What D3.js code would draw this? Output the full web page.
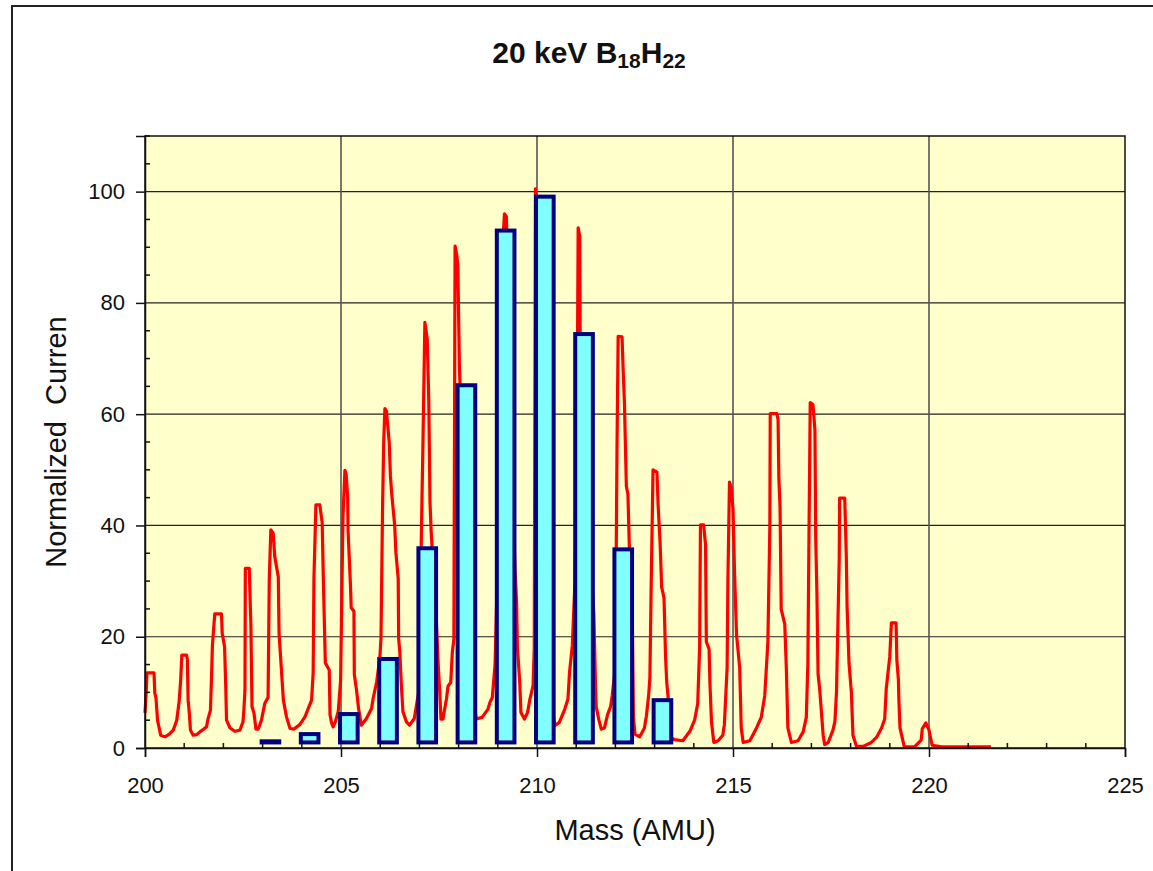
<!DOCTYPE html>
<html>
<head>
  <meta charset="UTF-8">
  <title>20 keV B18H22</title>
  <style>
    body { margin: 0; background: #fff; }
    svg { display: block; font-family: "Liberation Sans", Arial, sans-serif; }
  </style>
</head>
<body>
<svg id="chart"></svg>

<script src="https://d3js.org/d3.v7.min.js"></script>
<script>

const traceMass = [
  200.00, 200.03, 200.05, 200.23, 200.25, 200.28, 200.32, 200.40, 200.51, 200.62,
  200.72, 200.81, 200.87, 200.91, 200.94, 201.06, 201.08, 201.10, 201.13, 201.16,
  201.23, 201.32, 201.40, 201.50, 201.57, 201.60, 201.67, 201.70, 201.72, 201.78,
  201.95, 201.97, 202.03, 202.06, 202.08, 202.17, 202.29, 202.42, 202.50, 202.52,
  202.55, 202.56, 202.66, 202.68, 202.70, 202.73, 202.78, 202.83, 202.89, 202.97,
  203.06, 203.14, 203.17, 203.21, 203.27, 203.31, 203.40, 203.42, 203.53, 203.61,
  203.70, 203.80, 203.95, 204.08, 204.25, 204.29, 204.31, 204.36, 204.46, 204.52,
  204.55, 204.60, 204.70, 204.72, 204.76, 204.80, 204.86, 204.93, 204.99, 205.02,
  205.05, 205.10, 205.13, 205.17, 205.18, 205.24, 205.26, 205.33, 205.34, 205.40,
  205.45, 205.52, 205.65, 205.78, 205.82, 205.91, 205.99, 206.02, 206.06, 206.09,
  206.12, 206.16, 206.23, 206.26, 206.29, 206.37, 206.40, 206.46, 206.47, 206.50,
  206.54, 206.58, 206.67, 206.75, 206.87, 206.94, 207.00, 207.05, 207.09, 207.14,
  207.20, 207.24, 207.27, 207.30, 207.35, 207.42, 207.48, 207.52, 207.55, 207.60,
  207.69, 207.73, 207.80, 207.84, 207.88, 207.91, 207.95, 207.98, 208.02, 208.06,
  208.12, 208.20, 208.28, 208.36, 208.45, 208.60, 208.75, 208.80, 208.86, 208.93,
  209.02, 209.12, 209.17, 209.22, 209.28, 209.36, 209.44, 209.48, 209.50, 209.56,
  209.59, 209.68, 209.76, 209.82, 209.90, 209.93, 209.96, 209.99, 210.06, 210.15,
  210.25, 210.35, 210.45, 210.57, 210.71, 210.79, 210.83, 210.90, 210.97, 211.02,
  211.05, 211.09, 211.10, 211.20, 211.30, 211.40, 211.45, 211.49, 211.51, 211.58,
  211.64, 211.72, 211.80, 211.88, 211.92, 212.00, 212.04, 212.07, 212.17, 212.20,
  212.23, 212.28, 212.32, 212.36, 212.41, 212.43, 212.46, 212.50, 212.62, 212.74,
  212.79, 212.85, 212.88, 212.91, 212.96, 213.06, 213.09, 213.14, 213.18, 213.24,
  213.28, 213.31, 213.36, 213.40, 213.50, 213.72, 213.90, 214.02, 214.10, 214.15,
  214.17, 214.25, 214.30, 214.32, 214.39, 214.41, 214.45, 214.51, 214.62, 214.74,
  214.78, 214.85, 214.87, 214.91, 214.95, 215.00, 215.04, 215.09, 215.17, 215.21,
  215.26, 215.43, 215.60, 215.72, 215.81, 215.89, 215.94, 215.95, 216.12, 216.15,
  216.17, 216.20, 216.23, 216.32, 216.36, 216.40, 216.49, 216.66, 216.79, 216.87,
  216.91, 216.94, 216.97, 217.04, 217.09, 217.11, 217.14, 217.17, 217.21, 217.30,
  217.34, 217.43, 217.55, 217.60, 217.64, 217.71, 217.72, 217.85, 217.89, 217.91,
  217.96, 218.02, 218.06, 218.15, 218.32, 218.53, 218.66, 218.79, 218.87, 218.91,
  219.00, 219.04, 219.16, 219.18, 219.22, 219.23, 219.26, 219.37, 219.63, 219.80,
  219.83, 219.92, 220.00, 220.08, 220.33, 221.58
];
const traceCurrent = [
  6.3, 9.9, 13.5, 13.5, 9.9, 9.0, 5.0, 2.3, 2.0, 2.5,
  3.2, 5.0, 8.3, 12.2, 16.7, 16.7, 16.0, 8.6, 6.3, 3.2,
  2.3, 2.4, 2.9, 3.4, 3.8, 5.0, 6.8, 13.5, 18.5, 24.1,
  24.1, 20.6, 18.2, 11.0, 5.0, 3.6, 3.0, 3.2, 4.7, 6.5,
  10.4, 32.3, 32.3, 27.0, 22.5, 7.4, 6.3, 3.4, 3.4, 5.0,
  8.1, 9.1, 30.2, 39.2, 38.6, 34.4, 30.8, 20.6, 8.6, 5.6,
  3.5, 3.4, 4.2, 5.6, 8.6, 13.5, 30.6, 43.7, 43.7, 40.5,
  30.2, 15.3, 14.0, 6.0, 4.5, 3.8, 4.8, 6.6, 12.1, 27.0,
  41.5, 49.9, 49.3, 45.0, 39.0, 29.5, 25.2, 24.6, 13.2, 10.2,
  7.0, 4.1, 5.3, 7.1, 8.9, 11.9, 16.1, 19.7, 43.1, 55.1,
  61.0, 60.5, 55.0, 49.0, 46.0, 40.0, 35.2, 30.4, 19.7, 17.3,
  11.3, 6.5, 4.7, 4.1, 5.3, 8.3, 10.7, 38.3, 54.5, 76.5,
  73.5, 62.2, 44.2, 38.9, 33.0, 25.0, 15.0, 9.9, 5.2, 5.2,
  8.8, 11.1, 11.8, 17.2, 19.6, 90.2, 88.8, 86.8, 68.9, 60.0,
  45.0, 30.0, 18.0, 10.0, 5.2, 5.5, 7.0, 8.2, 9.1, 15.0,
  40.0, 90.0, 96.0, 95.5, 75.0, 50.0, 32.0, 26.0, 18.2, 11.8,
  6.4, 5.2, 6.4, 8.8, 11.2, 18.0, 100.5, 99.0, 80.0, 50.0,
  25.0, 10.0, 4.0, 4.6, 7.0, 8.8, 13.6, 18.4, 30.0, 55.0,
  93.5, 92.0, 75.0, 55.0, 40.0, 30.0, 24.2, 12.0, 7.4, 5.0,
  3.4, 3.6, 6.0, 7.5, 9.5, 14.5, 53.3, 74.0, 73.9, 67.5,
  62.2, 47.0, 45.6, 35.0, 26.5, 24.0, 5.5, 2.5, 2.0, 3.6,
  5.7, 9.6, 12.6, 28.0, 50.0, 49.6, 43.6, 36.9, 28.9, 27.0,
  16.3, 11.8, 8.0, 2.0, 1.5, 1.3, 3.0, 5.0, 8.0, 18.4,
  40.1, 40.1, 36.5, 19.1, 17.8, 12.0, 4.8, 1.0, 1.3, 2.3,
  4.2, 14.5, 30.0, 47.8, 46.9, 43.0, 31.4, 20.4, 14.5, 3.6,
  1.0, 1.3, 3.6, 5.5, 9.4, 19.1, 39.8, 60.1, 60.1, 59.0,
  48.5, 43.3, 24.9, 22.3, 14.5, 3.6, 1.0, 1.3, 2.9, 5.5,
  15.2, 39.4, 62.1, 61.7, 57.2, 37.8, 28.1, 13.3, 10.7, 2.3,
  0.6, 1.0, 3.2, 4.8, 10.0, 33.9, 44.9, 44.9, 34.6, 25.5,
  15.2, 10.0, 2.3, 0.3, 0.3, 1.0, 1.9, 3.6, 5.2, 10.7,
  16.5, 22.5, 22.5, 15.8, 12.2, 9.0, 3.6, 0.2, 0.2, 1.4,
  3.5, 4.5, 3.2, 0.5, 0.2, 0.2
];

// calculated isotope pattern (bars)
const barMass = [203, 204, 205, 206, 207, 208, 209, 210, 211, 212, 213];
const barCurrent = [1.2, 2.5, 6.1, 16.0, 35.9, 65.2, 93.0, 99.1, 74.4, 35.7, 8.6];
const barBase = 1;

const xTicks = [200, 205, 210, 215, 220, 225];
const xMinorTicks = d3.range(200, 226, 1);
const yTicks = [0, 20, 40, 60, 80, 100];
const yMinorTicks = d3.range(0, 111, 5);

let width = 1153, height = 871;
let plot = { left: 145, top: 136, right: 1125, bottom: 748 };

let svg = d3.select("#chart")
    .attr("width", width)
    .attr("height", height);

let x = d3.scaleLinear().domain([200, 225]).range([plot.left, plot.right]);
let y = d3.scaleLinear().domain([0, 110]).range([plot.bottom, plot.top]);

// outer chart frame (runs off the picture right / bottom)
svg.append("rect")
    .attr("x", 12).attr("y", 6)
    .attr("width", width).attr("height", height)
    .attr("fill", "none")
    .attr("stroke", "#222")
    .attr("stroke-width", 2);

// plot area
svg.append("rect")
    .attr("x", plot.left).attr("y", plot.top)
    .attr("width", plot.right - plot.left)
    .attr("height", plot.bottom - plot.top)
    .attr("fill", "#FFFFCC");

// gridlines
svg.append("g")
    .selectAll("line")
    .data(yTicks.filter(d => d > 0))
    .join("line")
    .attr("x1", plot.left).attr("x2", plot.right)
    .attr("y1", d => y(d)).attr("y2", d => y(d))
    .attr("stroke", "#222")
    .attr("stroke-width", 1.2);

svg.append("g")
    .selectAll("line")
    .data(xTicks.filter(d => d > 200 && d < 225))
    .join("line")
    .attr("x1", d => x(d)).attr("x2", d => x(d))
    .attr("y1", plot.top).attr("y2", plot.bottom)
    .attr("stroke", "#555")
    .attr("stroke-width", 1.6);

// spectrum
let traceData = traceMass.map((m, i) => [m, traceCurrent[i]]);
let line = d3.line()
    .x(d => x(d[0]))
    .y(d => y(d[1]));

svg.append("path")
    .datum(traceData)
    .attr("d", line)
    .attr("fill", "none")
    .attr("stroke", "#FF0000")
    .attr("stroke-width", 3.2)
    .attr("stroke-linejoin", "round");

// bars sit slightly right of each integer mass
let barOffset = 0.2, barWidth = 0.45;
svg.append("g")
    .selectAll("rect")
    .data(barMass)
    .join("rect")
    .attr("x", d => x(d + barOffset - barWidth / 2))
    .attr("width", x(200 + barWidth) - x(200))
    .attr("y", (d, i) => y(barCurrent[i]))
    .attr("height", (d, i) => y(barBase) - y(barCurrent[i]))
    .attr("fill", "#80FFFF")
    .attr("stroke", "#000080")
    .attr("stroke-width", 4);

// plot border
svg.append("rect")
    .attr("x", plot.left).attr("y", plot.top)
    .attr("width", plot.right - plot.left)
    .attr("height", plot.bottom - plot.top)
    .attr("fill", "none")
    .attr("stroke", "#111")
    .attr("stroke-width", 1.5);

// axes
let xAxis = svg.append("g")
    .attr("transform", "translate(0," + plot.bottom + ")")
    .call(d3.axisBottom(x).tickValues(xTicks).tickSize(9).tickPadding(20).tickFormat(d3.format("d")));
let yAxis = svg.append("g")
    .attr("transform", "translate(" + plot.left + ",0)")
    .call(d3.axisLeft(y).tickValues(yTicks).tickSize(9).tickPadding(11).tickFormat(d3.format("d")));

[xAxis, yAxis].forEach(a => {
    a.select(".domain").attr("stroke", "#111").attr("stroke-width", 1.5);
    a.selectAll(".tick line").attr("stroke", "#111").attr("stroke-width", 1.5);
    a.selectAll(".tick text")
        .attr("font-family", "'Liberation Sans', Arial, sans-serif")
        .attr("font-size", 22)
        .attr("fill", "#111");
});

// minor ticks, pointing inward
svg.append("g")
    .selectAll("line")
    .data(xMinorTicks.filter(d => d % 5 != 0))
    .join("line")
    .attr("x1", d => x(d)).attr("x2", d => x(d))
    .attr("y1", plot.bottom).attr("y2", plot.bottom - 5)
    .attr("stroke", "#111").attr("stroke-width", 1.5);

svg.append("g")
    .selectAll("line")
    .data(yMinorTicks.filter(d => d % 20 != 0))
    .join("line")
    .attr("x1", plot.left).attr("x2", plot.left + 5)
    .attr("y1", d => y(d)).attr("y2", d => y(d))
    .attr("stroke", "#111").attr("stroke-width", 1.5);

// title with subscripts
let title = svg.append("text")
    .attr("x", 589).attr("y", 63)
    .attr("text-anchor", "middle")
    .attr("font-size", 30)
    .attr("font-weight", "bold")
    .attr("fill", "#111");
title.append("tspan").text("20 keV B");
title.append("tspan").attr("font-size", 21).attr("dy", 5).text("18");
title.append("tspan").attr("dy", -5).text("H");
title.append("tspan").attr("font-size", 21).attr("dy", 5).text("22");

// axis titles
svg.append("text")
    .attr("x", (plot.left + plot.right) / 2).attr("y", 840)
    .attr("text-anchor", "middle")
    .attr("font-size", 29)
    .attr("fill", "#111")
    .text("Mass (AMU)");

svg.append("text")
    .attr("transform", "translate(66," + ((plot.top + plot.bottom) / 2) + ") rotate(-90)")
    .attr("text-anchor", "middle")
    .attr("font-size", 29)
    .attr("fill", "#111")
    .attr("xml:space", "preserve")
    .text("Normalized  Curren");

</script>
</body>
</html>
